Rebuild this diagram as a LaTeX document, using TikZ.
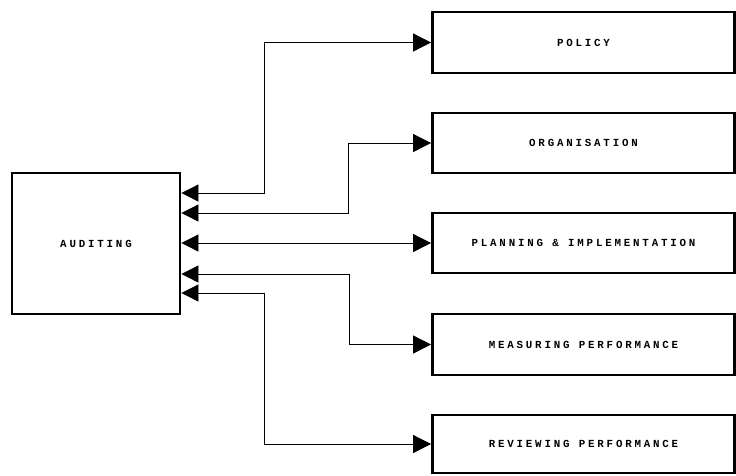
\documentclass[tikz,border=0pt]{standalone}
\usepackage{fontspec}
\newfontfamily\boxfont[LetterSpace=26]{Liberation Mono Bold}
\usetikzlibrary{arrows.meta,calc}
\begin{document}
\begin{tikzpicture}[x=1pt,y=-1pt,
  blk/.style={draw,line width=2.8pt,inner sep=0pt,font=\boxfont\fontsize{10.8}{12}\selectfont},
  link/.style={line width=0.8pt,{Triangle[length=17pt,width=17pt]}-{Triangle[length=18pt,width=18pt]}}]
\useasboundingbox (0,0) rectangle (736,475);
\node[blk,minimum width=168pt,minimum height=141pt] (aud) at (96,243.5) {AUDITING};
\node[blk,minimum width=302pt,minimum height=61pt] (pol) at (583.5,42.5) {POLICY};
\node[blk,minimum width=302pt,minimum height=60pt] (org) at (583.5,143) {ORGANISATION};
\node[blk,minimum width=302pt,minimum height=60pt] (pla) at (583.5,243) {PLANNING \& IMPLEMENTATION};
\node[blk,minimum width=302pt,minimum height=61pt] (mea) at (583.5,344.5) {MEASURING PERFORMANCE};
\node[blk,minimum width=302pt,minimum height=58pt] (rev) at (583.5,444) {REVIEWING PERFORMANCE};
\coordinate (a1) at ([yshift=50.5pt]aud.east);
\coordinate (a2) at ([yshift=30.5pt]aud.east);
\coordinate (a4) at ([yshift=-30.5pt]aud.east);
\coordinate (a5) at ([yshift=-49.5pt]aud.east);
\coordinate (j1) at (264,193);
\coordinate (j2) at (348,213);
\coordinate (j4) at (349,274);
\coordinate (j5) at (264,293);
\draw[link] (a1) -- (j1) |- (pol.west);
\draw[link] (a2) -- (j2) |- (org.west);
\draw[link] (aud.east |- pla.west) -- (pla.west);
\draw[link] (a4) -- (j4) |- (mea.west);
\draw[link] (a5) -- (j5) |- (rev.west);
\end{tikzpicture}
\end{document}
